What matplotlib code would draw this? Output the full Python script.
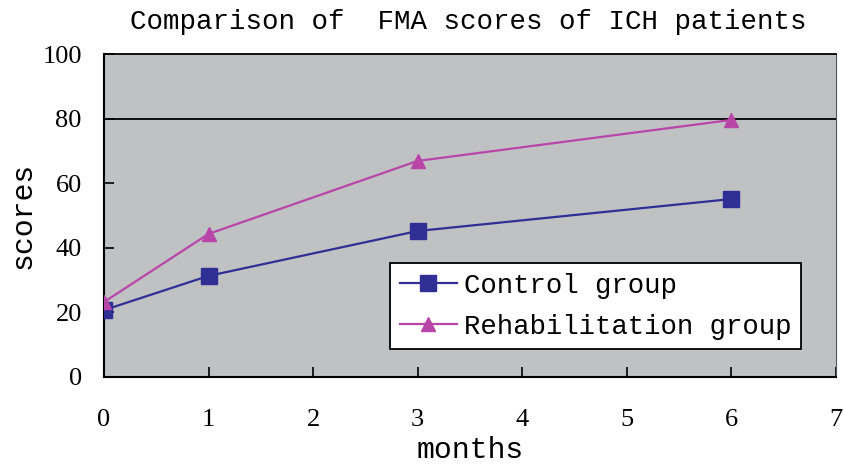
import matplotlib

matplotlib.use("Agg")
import matplotlib.pyplot as plt

months = [0, 1, 3, 6]
control = [20.7, 31.3, 45.2, 55.1]
rehab = [23.2, 44.3, 66.9, 79.6]
labels = ["Control group", "Rehabilitation group"]

MONO = "Liberation Mono"
SERIF = "Liberation Serif"

fig = plt.figure(figsize=(8.44, 4.70), dpi=100)
ax = fig.add_axes([0.1232, 0.198, 0.8673, 0.687])
ax.set_facecolor("#c0c1c3")

ax.axhline(80, color="black", lw=1.3, zorder=1)
ax.plot(months, control, color="#2f2f96", lw=1.6, marker="s", ms=12,
        label=labels[0], zorder=3)
ax.plot(months, rehab, color="#b845a8", lw=1.6, marker="^", ms=10,
        label=labels[1], zorder=3)

ax.set_xlim(0, 7)
ax.set_ylim(0, 100)
ax.set_xticks(range(0, 8))
ax.set_yticks(range(0, 101, 20))
ax.tick_params(direction="in", length=7, width=1.2)
ax.tick_params(axis="x", pad=23)
ax.tick_params(axis="y", pad=16)
for lab in ax.get_xticklabels() + ax.get_yticklabels():
    lab.set_fontfamily(SERIF)
    lab.set_fontsize(19)
for side in ["left", "bottom"]:
    ax.spines[side].set_linewidth(1.5)
ax.spines["top"].set_linewidth(1.3)
ax.spines["right"].set_color("#555555")

ax.set_xlabel("months", fontfamily=MONO, fontsize=21.5, labelpad=4)
ax.set_ylabel("scores", fontfamily=MONO, fontsize=21.5, labelpad=4)
fig.text(0.555, 0.953, "Comparison of  FMA scores of ICH patients",
         ha="center", va="center", fontfamily=MONO, fontsize=19.8)

leg = ax.legend(loc="upper left", bbox_to_anchor=(0.391, 0.353),
                borderaxespad=0, prop={"family": MONO, "size": 19.7},
                frameon=True, fancybox=False, edgecolor="black",
                framealpha=1, handlelength=2.1, handletextpad=0.25,
                labelspacing=0.55, borderpad=0.35)
leg.get_frame().set_linewidth(1.3)

fig.savefig("out.png", dpi=100)
